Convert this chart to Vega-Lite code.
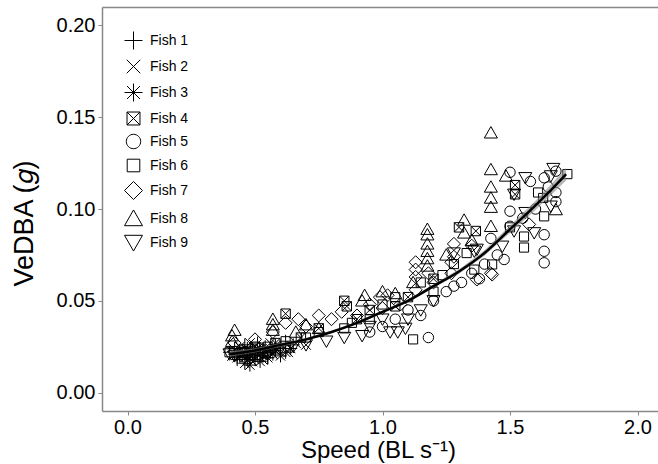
{
  "$schema": "https://vega.github.io/schema/vega-lite/v6.json",
  "width": 561,
  "height": 404,
  "autosize": "none",
  "padding": {"left": 102, "top": 7, "right": 0, "bottom": 53},
  "background": "white",
  "config": {
    "view": {"stroke": null},
    "font": "Liberation Sans",
    "axis": {
      "domainColor": "#888888",
      "domainWidth": 1.5,
      "tickColor": "#888888",
      "tickWidth": 1,
      "tickSize": 4,
      "grid": false,
      "labelColor": "black",
      "labelFontSize": 20,
      "labelFont": "Liberation Sans",
      "titleFont": "Liberation Sans",
      "titleFontSize": 25,
      "titleFontWeight": "normal",
      "titleColor": "black"
    }
  },
  "datasets": {
    "pts": [
      {"fish": "Fish 1", "speed": 0.40, "vedba": 0.022}, {"fish": "Fish 1", "speed": 0.42, "vedba": 0.024}, {"fish": "Fish 1", "speed": 0.44, "vedba": 0.020}, {"fish": "Fish 1", "speed": 0.45, "vedba": 0.023}, {"fish": "Fish 1", "speed": 0.46, "vedba": 0.026}, {"fish": "Fish 1", "speed": 0.47, "vedba": 0.021}, {"fish": "Fish 1", "speed": 0.48, "vedba": 0.019}, {"fish": "Fish 1", "speed": 0.49, "vedba": 0.024}, {"fish": "Fish 1", "speed": 0.50, "vedba": 0.022}, {"fish": "Fish 1", "speed": 0.51, "vedba": 0.027}, {"fish": "Fish 1", "speed": 0.52, "vedba": 0.020}, {"fish": "Fish 1", "speed": 0.53, "vedba": 0.023}, {"fish": "Fish 1", "speed": 0.54, "vedba": 0.025}, {"fish": "Fish 1", "speed": 0.56, "vedba": 0.022}, {"fish": "Fish 1", "speed": 0.58, "vedba": 0.026}, {"fish": "Fish 1", "speed": 0.60, "vedba": 0.024}, {"fish": "Fish 1", "speed": 0.62, "vedba": 0.028}, {"fish": "Fish 1", "speed": 0.65, "vedba": 0.026}, {"fish": "Fish 1", "speed": 0.43, "vedba": 0.018}, {"fish": "Fish 1", "speed": 0.55, "vedba": 0.019},
      {"fish": "Fish 2", "speed": 0.41, "vedba": 0.020}, {"fish": "Fish 2", "speed": 0.43, "vedba": 0.022}, {"fish": "Fish 2", "speed": 0.44, "vedba": 0.025}, {"fish": "Fish 2", "speed": 0.46, "vedba": 0.019}, {"fish": "Fish 2", "speed": 0.47, "vedba": 0.023}, {"fish": "Fish 2", "speed": 0.48, "vedba": 0.027}, {"fish": "Fish 2", "speed": 0.50, "vedba": 0.020}, {"fish": "Fish 2", "speed": 0.51, "vedba": 0.024}, {"fish": "Fish 2", "speed": 0.52, "vedba": 0.022}, {"fish": "Fish 2", "speed": 0.53, "vedba": 0.018}, {"fish": "Fish 2", "speed": 0.55, "vedba": 0.024}, {"fish": "Fish 2", "speed": 0.57, "vedba": 0.021}, {"fish": "Fish 2", "speed": 0.59, "vedba": 0.023}, {"fish": "Fish 2", "speed": 0.61, "vedba": 0.025}, {"fish": "Fish 2", "speed": 0.63, "vedba": 0.022}, {"fish": "Fish 2", "speed": 0.66, "vedba": 0.027}, {"fish": "Fish 2", "speed": 0.70, "vedba": 0.026}, {"fish": "Fish 2", "speed": 0.45, "vedba": 0.021}, {"fish": "Fish 2", "speed": 0.49, "vedba": 0.017}, {"fish": "Fish 2", "speed": 0.56, "vedba": 0.027},
      {"fish": "Fish 3", "speed": 0.42, "vedba": 0.021}, {"fish": "Fish 3", "speed": 0.43, "vedba": 0.019}, {"fish": "Fish 3", "speed": 0.44, "vedba": 0.023}, {"fish": "Fish 3", "speed": 0.45, "vedba": 0.020}, {"fish": "Fish 3", "speed": 0.46, "vedba": 0.022}, {"fish": "Fish 3", "speed": 0.47, "vedba": 0.018}, {"fish": "Fish 3", "speed": 0.47, "vedba": 0.024}, {"fish": "Fish 3", "speed": 0.48, "vedba": 0.021}, {"fish": "Fish 3", "speed": 0.49, "vedba": 0.020}, {"fish": "Fish 3", "speed": 0.50, "vedba": 0.023}, {"fish": "Fish 3", "speed": 0.50, "vedba": 0.018}, {"fish": "Fish 3", "speed": 0.51, "vedba": 0.021}, {"fish": "Fish 3", "speed": 0.52, "vedba": 0.024}, {"fish": "Fish 3", "speed": 0.53, "vedba": 0.020}, {"fish": "Fish 3", "speed": 0.54, "vedba": 0.022}, {"fish": "Fish 3", "speed": 0.55, "vedba": 0.019}, {"fish": "Fish 3", "speed": 0.56, "vedba": 0.024}, {"fish": "Fish 3", "speed": 0.57, "vedba": 0.021}, {"fish": "Fish 3", "speed": 0.58, "vedba": 0.023}, {"fish": "Fish 3", "speed": 0.60, "vedba": 0.020}, {"fish": "Fish 3", "speed": 0.62, "vedba": 0.022}, {"fish": "Fish 3", "speed": 0.46, "vedba": 0.016}, {"fish": "Fish 3", "speed": 0.48, "vedba": 0.015}, {"fish": "Fish 3", "speed": 0.52, "vedba": 0.017}, {"fish": "Fish 3", "speed": 0.64, "vedba": 0.024},
      {"fish": "Fish 4", "speed": 0.62, "vedba": 0.043}, {"fish": "Fish 4", "speed": 0.85, "vedba": 0.050}, {"fish": "Fish 4", "speed": 0.86, "vedba": 0.047}, {"fish": "Fish 4", "speed": 1.30, "vedba": 0.090}, {"fish": "Fish 4", "speed": 1.366, "vedba": 0.088}, {"fish": "Fish 4", "speed": 1.52, "vedba": 0.113}, {"fish": "Fish 4", "speed": 0.50, "vedba": 0.025}, {"fish": "Fish 4", "speed": 0.75, "vedba": 0.035}, {"fish": "Fish 4", "speed": 0.95, "vedba": 0.045}, {"fish": "Fish 4", "speed": 1.10, "vedba": 0.052}, {"fish": "Fish 4", "speed": 0.45, "vedba": 0.022}, {"fish": "Fish 4", "speed": 0.68, "vedba": 0.030}, {"fish": "Fish 4", "speed": 1.05, "vedba": 0.047}, {"fish": "Fish 4", "speed": 0.90, "vedba": 0.040}, {"fish": "Fish 4", "speed": 1.52, "vedba": 0.108}, {"fish": "Fish 4", "speed": 1.20, "vedba": 0.062}, {"fish": "Fish 4", "speed": 0.58, "vedba": 0.027},
      {"fish": "Fish 5", "speed": 1.18, "vedba": 0.030}, {"fish": "Fish 5", "speed": 1.31, "vedba": 0.060}, {"fish": "Fish 5", "speed": 1.50, "vedba": 0.120}, {"fish": "Fish 5", "speed": 1.634, "vedba": 0.117}, {"fish": "Fish 5", "speed": 1.68, "vedba": 0.1206}, {"fish": "Fish 5", "speed": 1.68, "vedba": 0.104}, {"fish": "Fish 5", "speed": 1.68, "vedba": 0.109}, {"fish": "Fish 5", "speed": 1.50, "vedba": 0.0988}, {"fish": "Fish 5", "speed": 1.634, "vedba": 0.086}, {"fish": "Fish 5", "speed": 1.634, "vedba": 0.077}, {"fish": "Fish 5", "speed": 1.634, "vedba": 0.0707}, {"fish": "Fish 5", "speed": 1.50, "vedba": 0.0906}, {"fish": "Fish 5", "speed": 1.425, "vedba": 0.084}, {"fish": "Fish 5", "speed": 1.477, "vedba": 0.0725}, {"fish": "Fish 5", "speed": 1.00, "vedba": 0.036}, {"fish": "Fish 5", "speed": 1.05, "vedba": 0.040}, {"fish": "Fish 5", "speed": 1.10, "vedba": 0.045}, {"fish": "Fish 5", "speed": 1.20, "vedba": 0.050}, {"fish": "Fish 5", "speed": 1.25, "vedba": 0.055}, {"fish": "Fish 5", "speed": 1.35, "vedba": 0.065}, {"fish": "Fish 5", "speed": 1.40, "vedba": 0.070}, {"fish": "Fish 5", "speed": 1.45, "vedba": 0.075}, {"fish": "Fish 5", "speed": 1.55, "vedba": 0.095}, {"fish": "Fish 5", "speed": 1.60, "vedba": 0.100}, {"fish": "Fish 5", "speed": 1.65, "vedba": 0.112}, {"fish": "Fish 5", "speed": 0.95, "vedba": 0.033}, {"fish": "Fish 5", "speed": 1.15, "vedba": 0.042}, {"fish": "Fish 5", "speed": 1.28, "vedba": 0.058}, {"fish": "Fish 5", "speed": 1.38, "vedba": 0.062}, {"fish": "Fish 5", "speed": 1.58, "vedba": 0.115},
      {"fish": "Fish 6", "speed": 0.40, "vedba": 0.022}, {"fish": "Fish 6", "speed": 0.55, "vedba": 0.025}, {"fish": "Fish 6", "speed": 0.70, "vedba": 0.030}, {"fish": "Fish 6", "speed": 0.85, "vedba": 0.035}, {"fish": "Fish 6", "speed": 0.95, "vedba": 0.040}, {"fish": "Fish 6", "speed": 1.00, "vedba": 0.048}, {"fish": "Fish 6", "speed": 1.12, "vedba": 0.029}, {"fish": "Fish 6", "speed": 1.235, "vedba": 0.064}, {"fish": "Fish 6", "speed": 1.33, "vedba": 0.076}, {"fish": "Fish 6", "speed": 1.36, "vedba": 0.067}, {"fish": "Fish 6", "speed": 1.43, "vedba": 0.0698}, {"fish": "Fish 6", "speed": 1.555, "vedba": 0.079}, {"fish": "Fish 6", "speed": 1.555, "vedba": 0.085}, {"fish": "Fish 6", "speed": 1.61, "vedba": 0.109}, {"fish": "Fish 6", "speed": 1.634, "vedba": 0.096}, {"fish": "Fish 6", "speed": 1.725, "vedba": 0.119}, {"fish": "Fish 6", "speed": 1.20, "vedba": 0.055}, {"fish": "Fish 6", "speed": 1.05, "vedba": 0.052}, {"fish": "Fish 6", "speed": 0.75, "vedba": 0.033}, {"fish": "Fish 6", "speed": 0.62, "vedba": 0.028}, {"fish": "Fish 6", "speed": 1.15, "vedba": 0.060}, {"fish": "Fish 6", "speed": 1.28, "vedba": 0.070}, {"fish": "Fish 6", "speed": 1.50, "vedba": 0.090}, {"fish": "Fish 6", "speed": 0.88, "vedba": 0.038}, {"fish": "Fish 6", "speed": 1.63, "vedba": 0.106},
      {"fish": "Fish 7", "speed": 0.42, "vedba": 0.027}, {"fish": "Fish 7", "speed": 0.57, "vedba": 0.033}, {"fish": "Fish 7", "speed": 0.62, "vedba": 0.038}, {"fish": "Fish 7", "speed": 0.67, "vedba": 0.040}, {"fish": "Fish 7", "speed": 0.70, "vedba": 0.036}, {"fish": "Fish 7", "speed": 0.84, "vedba": 0.044}, {"fish": "Fish 7", "speed": 0.80, "vedba": 0.040}, {"fish": "Fish 7", "speed": 0.99, "vedba": 0.052}, {"fish": "Fish 7", "speed": 1.02, "vedba": 0.053}, {"fish": "Fish 7", "speed": 0.95, "vedba": 0.048}, {"fish": "Fish 7", "speed": 1.13, "vedba": 0.056}, {"fish": "Fish 7", "speed": 1.13, "vedba": 0.063}, {"fish": "Fish 7", "speed": 1.13, "vedba": 0.067}, {"fish": "Fish 7", "speed": 1.13, "vedba": 0.071}, {"fish": "Fish 7", "speed": 1.28, "vedba": 0.074}, {"fish": "Fish 7", "speed": 1.28, "vedba": 0.081}, {"fish": "Fish 7", "speed": 1.27, "vedba": 0.065}, {"fish": "Fish 7", "speed": 1.27, "vedba": 0.071}, {"fish": "Fish 7", "speed": 1.37, "vedba": 0.0616}, {"fish": "Fish 7", "speed": 1.425, "vedba": 0.065}, {"fish": "Fish 7", "speed": 1.43, "vedba": 0.0643}, {"fish": "Fish 7", "speed": 1.575, "vedba": 0.0916}, {"fish": "Fish 7", "speed": 1.20, "vedba": 0.060}, {"fish": "Fish 7", "speed": 1.07, "vedba": 0.048}, {"fish": "Fish 7", "speed": 0.90, "vedba": 0.042}, {"fish": "Fish 7", "speed": 0.50, "vedba": 0.029}, {"fish": "Fish 7", "speed": 0.75, "vedba": 0.042}, {"fish": "Fish 7", "speed": 1.35, "vedba": 0.080}, {"fish": "Fish 7", "speed": 1.18, "vedba": 0.065}, {"fish": "Fish 7", "speed": 1.00, "vedba": 0.046},
      {"fish": "Fish 8", "speed": 0.41, "vedba": 0.028}, {"fish": "Fish 8", "speed": 0.41, "vedba": 0.031}, {"fish": "Fish 8", "speed": 0.42, "vedba": 0.034}, {"fish": "Fish 8", "speed": 0.57, "vedba": 0.034}, {"fish": "Fish 8", "speed": 0.57, "vedba": 0.037}, {"fish": "Fish 8", "speed": 0.57, "vedba": 0.040}, {"fish": "Fish 8", "speed": 0.92, "vedba": 0.050}, {"fish": "Fish 8", "speed": 0.93, "vedba": 0.053}, {"fish": "Fish 8", "speed": 1.176, "vedba": 0.069}, {"fish": "Fish 8", "speed": 1.176, "vedba": 0.073}, {"fish": "Fish 8", "speed": 1.176, "vedba": 0.077}, {"fish": "Fish 8", "speed": 1.176, "vedba": 0.081}, {"fish": "Fish 8", "speed": 1.176, "vedba": 0.086}, {"fish": "Fish 8", "speed": 1.176, "vedba": 0.089}, {"fish": "Fish 8", "speed": 1.32, "vedba": 0.087}, {"fish": "Fish 8", "speed": 1.32, "vedba": 0.094}, {"fish": "Fish 8", "speed": 1.425, "vedba": 0.0906}, {"fish": "Fish 8", "speed": 1.425, "vedba": 0.101}, {"fish": "Fish 8", "speed": 1.425, "vedba": 0.106}, {"fish": "Fish 8", "speed": 1.425, "vedba": 0.112}, {"fish": "Fish 8", "speed": 1.425, "vedba": 0.1215}, {"fish": "Fish 8", "speed": 1.425, "vedba": 0.1415}, {"fish": "Fish 8", "speed": 1.484, "vedba": 0.118}, {"fish": "Fish 8", "speed": 1.68, "vedba": 0.0997}, {"fish": "Fish 8", "speed": 1.00, "vedba": 0.055}, {"fish": "Fish 8", "speed": 1.05, "vedba": 0.054}, {"fish": "Fish 8", "speed": 0.70, "vedba": 0.037}, {"fish": "Fish 8", "speed": 0.75, "vedba": 0.035}, {"fish": "Fish 8", "speed": 1.12, "vedba": 0.060}, {"fish": "Fish 8", "speed": 1.25, "vedba": 0.075}, {"fish": "Fish 8", "speed": 1.35, "vedba": 0.083}, {"fish": "Fish 8", "speed": 0.66, "vedba": 0.033},
      {"fish": "Fish 9", "speed": 0.40, "vedba": 0.021}, {"fish": "Fish 9", "speed": 0.42, "vedba": 0.020}, {"fish": "Fish 9", "speed": 0.55, "vedba": 0.021}, {"fish": "Fish 9", "speed": 0.60, "vedba": 0.024}, {"fish": "Fish 9", "speed": 0.70, "vedba": 0.026}, {"fish": "Fish 9", "speed": 0.78, "vedba": 0.028}, {"fish": "Fish 9", "speed": 0.85, "vedba": 0.030}, {"fish": "Fish 9", "speed": 0.92, "vedba": 0.031}, {"fish": "Fish 9", "speed": 1.03, "vedba": 0.033}, {"fish": "Fish 9", "speed": 1.06, "vedba": 0.033}, {"fish": "Fish 9", "speed": 1.09, "vedba": 0.035}, {"fish": "Fish 9", "speed": 1.37, "vedba": 0.078}, {"fish": "Fish 9", "speed": 1.47, "vedba": 0.0797}, {"fish": "Fish 9", "speed": 1.516, "vedba": 0.108}, {"fish": "Fish 9", "speed": 1.516, "vedba": 0.088}, {"fish": "Fish 9", "speed": 1.56, "vedba": 0.117}, {"fish": "Fish 9", "speed": 1.56, "vedba": 0.098}, {"fish": "Fish 9", "speed": 1.595, "vedba": 0.087}, {"fish": "Fish 9", "speed": 1.66, "vedba": 0.118}, {"fish": "Fish 9", "speed": 1.67, "vedba": 0.122}, {"fish": "Fish 9", "speed": 1.66, "vedba": 0.1015}, {"fish": "Fish 9", "speed": 1.28, "vedba": 0.076}, {"fish": "Fish 9", "speed": 1.36, "vedba": 0.077}, {"fish": "Fish 9", "speed": 1.00, "vedba": 0.040}, {"fish": "Fish 9", "speed": 1.15, "vedba": 0.045}, {"fish": "Fish 9", "speed": 1.20, "vedba": 0.050}, {"fish": "Fish 9", "speed": 0.65, "vedba": 0.025}, {"fish": "Fish 9", "speed": 0.95, "vedba": 0.036}, {"fish": "Fish 9", "speed": 1.10, "vedba": 0.040}, {"fish": "Fish 9", "speed": 0.48, "vedba": 0.022}
    ],
    "fit": [
      {"speed": 0.40, "fit": 0.021, "lo": 0.0195, "hi": 0.0225},
      {"speed": 0.50, "fit": 0.023, "lo": 0.0218, "hi": 0.0242},
      {"speed": 0.60, "fit": 0.026, "lo": 0.0250, "hi": 0.0270},
      {"speed": 0.70, "fit": 0.029, "lo": 0.0282, "hi": 0.0298},
      {"speed": 0.80, "fit": 0.033, "lo": 0.0323, "hi": 0.0337},
      {"speed": 0.90, "fit": 0.038, "lo": 0.0373, "hi": 0.0387},
      {"speed": 1.00, "fit": 0.044, "lo": 0.0433, "hi": 0.0447},
      {"speed": 1.10, "fit": 0.050, "lo": 0.0492, "hi": 0.0508},
      {"speed": 1.20, "fit": 0.058, "lo": 0.0570, "hi": 0.0590},
      {"speed": 1.30, "fit": 0.066, "lo": 0.0648, "hi": 0.0672},
      {"speed": 1.40, "fit": 0.076, "lo": 0.0745, "hi": 0.0775},
      {"speed": 1.50, "fit": 0.089, "lo": 0.0870, "hi": 0.0910},
      {"speed": 1.60, "fit": 0.102, "lo": 0.0995, "hi": 0.1045},
      {"speed": 1.70, "fit": 0.116, "lo": 0.1128, "hi": 0.1192},
      {"speed": 1.72, "fit": 0.119, "lo": 0.1155, "hi": 0.1225}
    ]
  },
  "resolve": {"axis": {"x": "independent"}},
  "layer": [
    {
      "data": {"name": "pts"},
      "mark": {"type": "point", "filled": false, "color": "black", "strokeWidth": 1, "size": 170, "opacity": 1},
      "encoding": {
        "x": {"field": "speed", "type": "quantitative", "scale": {"domain": [-0.1, 2.1], "nice": false, "zero": false},
              "axis": {"orient": "bottom", "title": "Speed (BL s⁻¹)", "values": [0, 0.5, 1, 1.5, 2], "format": ".1f", "labelPadding": 2, "titlePadding": 1, "titleFontSize": 24, "titleX": 276, "domain": true, "labelFlush": false}},
        "y": {"field": "vedba", "type": "quantitative", "scale": {"domain": [-0.01, 0.21], "nice": false, "zero": false},
              "axis": {"title": "VeDBA (𝑔)", "titleFontSize": 27, "titleY": 216, "values": [0, 0.05, 0.1, 0.15, 0.2], "format": ".2f", "labelPadding": 3, "titlePadding": 18, "domain": true}},
        "shape": {"field": "fish", "type": "nominal",
                  "scale": {"domain": ["Fish 1", "Fish 2", "Fish 3", "Fish 4", "Fish 5", "Fish 6", "Fish 7", "Fish 8", "Fish 9"],
                            "range": ["M-1,0H1M0,-1V1", "M-0.75,-0.75L0.75,0.75M-0.75,0.75L0.75,-0.75", "M-1,0H1M0,-1V1M-0.72,-0.72L0.72,0.72M-0.72,0.72L0.72,-0.72", "M-0.72,-0.72H0.72V0.72H-0.72ZM-0.72,-0.72L0.72,0.72M-0.72,0.72L0.72,-0.72", "M0.8,0A0.8,0.8 0 1,1 -0.8,0A0.8,0.8 0 1,1 0.8,0Z", "M-0.7,-0.7H0.7V0.7H-0.7Z", "M0,-1L1,0L0,1L-1,0Z", "M0,-0.95L1,0.8L-1,0.8Z", "M0,0.95L1,-0.8L-1,-0.8Z"]},
                  "legend": {"title": null, "orient": "none", "legendX": 22, "legendY": 24, "symbolSize": 324, "symbolStrokeWidth": 1, "symbolStrokeColor": "black", "symbolFillColor": "transparent", "labelFontSize": 14, "labelFont": "Liberation Sans", "labelColor": "black", "labelOffset": 7, "rowPadding": 5, "padding": 0}}
      }
    },
    {
      "data": {"name": "fit"},
      "mark": {"type": "area", "color": "#888888", "opacity": 0.6},
      "encoding": {
        "x": {"field": "speed", "type": "quantitative", "axis": {"orient": "top", "labels": false, "ticks": false, "title": null, "domain": true}},
        "y": {"field": "lo", "type": "quantitative"},
        "y2": {"field": "hi"}
      }
    },
    {
      "data": {"name": "fit"},
      "mark": {"type": "line", "color": "black", "strokeWidth": 2.5, "interpolate": "monotone"},
      "encoding": {
        "x": {"field": "speed", "type": "quantitative", "axis": null},
        "y": {"field": "fit", "type": "quantitative"}
      }
    }
  ]
}
